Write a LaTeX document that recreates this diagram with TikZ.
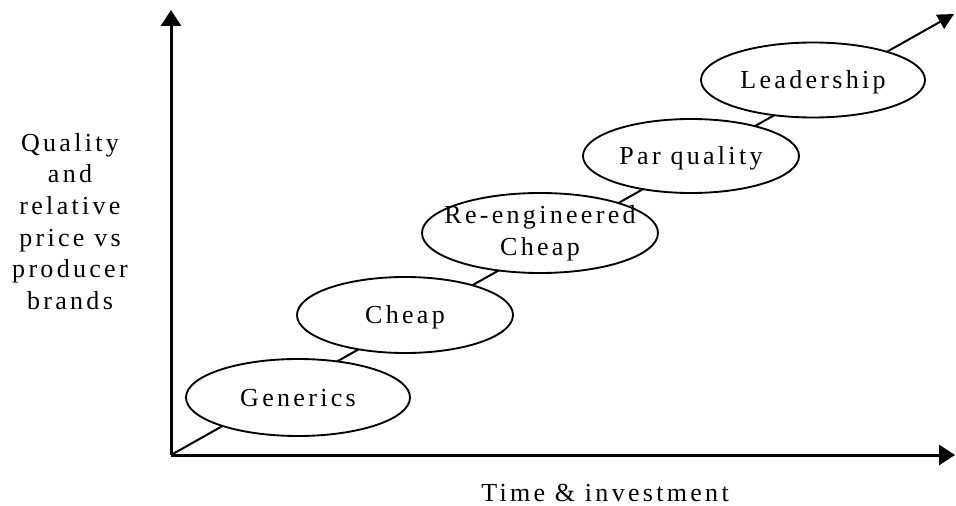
\documentclass[tikz,border=0pt]{standalone}
\usepackage{fontspec}
\setmainfont{Liberation Serif}[LetterSpace=12.7]
\usetikzlibrary{shapes.geometric,arrows.meta}
\begin{document}
\begin{tikzpicture}[x=0.75pt,y=-0.75pt,
  axis/.style={line width=2.25pt,-{Triangle[length=12pt,width=15pt]}},
  trend/.style={line width=1.5pt,-{Triangle[length=12pt,width=12pt]}},
  stage/.style={ellipse,draw,fill=white,line width=1.4pt,inner sep=0pt,
    font=\fontsize{19.5}{23.8}\selectfont,text height=13pt,text depth=0pt},
  lbl/.style={font=\fontsize{19.5}{23.8}\selectfont,align=center,inner sep=0pt}]
\useasboundingbox (0,0) rectangle (956,506);
\coordinate (O) at (171,455);
\coordinate (ytip) at (171,10);
\coordinate (xtip) at (955,455);
\coordinate (dtip) at (954,14);
\draw[trend] (O) -- (dtip);
\draw[axis] (O) -- (ytip);
\draw[axis] (O) -- (xtip);
\node[stage,minimum width=168pt,minimum height=57.75pt] (gen) at (298,397.5) {Generics};
\node[stage,minimum width=162pt,minimum height=57pt] (cheap) at (405,315) {Cheap};
\node[stage,minimum width=177pt,minimum height=60pt,
  label={[lbl]center:{Re-engineered\\Cheap}}] (reeng) at (540,233) {};
\node[stage,minimum width=162pt,minimum height=55.5pt] (par) at (691,156) {Par quality};
\node[stage,minimum width=168pt,minimum height=56.25pt] (lead) at (813,80) {Leadership};
\node[lbl] (ylab) at (70,221.5) {Quality\\and\\relative\\price vs\\producer\\brands};
\node[lbl,anchor=base] (xlab) at (605,501) {Time \& investment};
\end{tikzpicture}
\end{document}
